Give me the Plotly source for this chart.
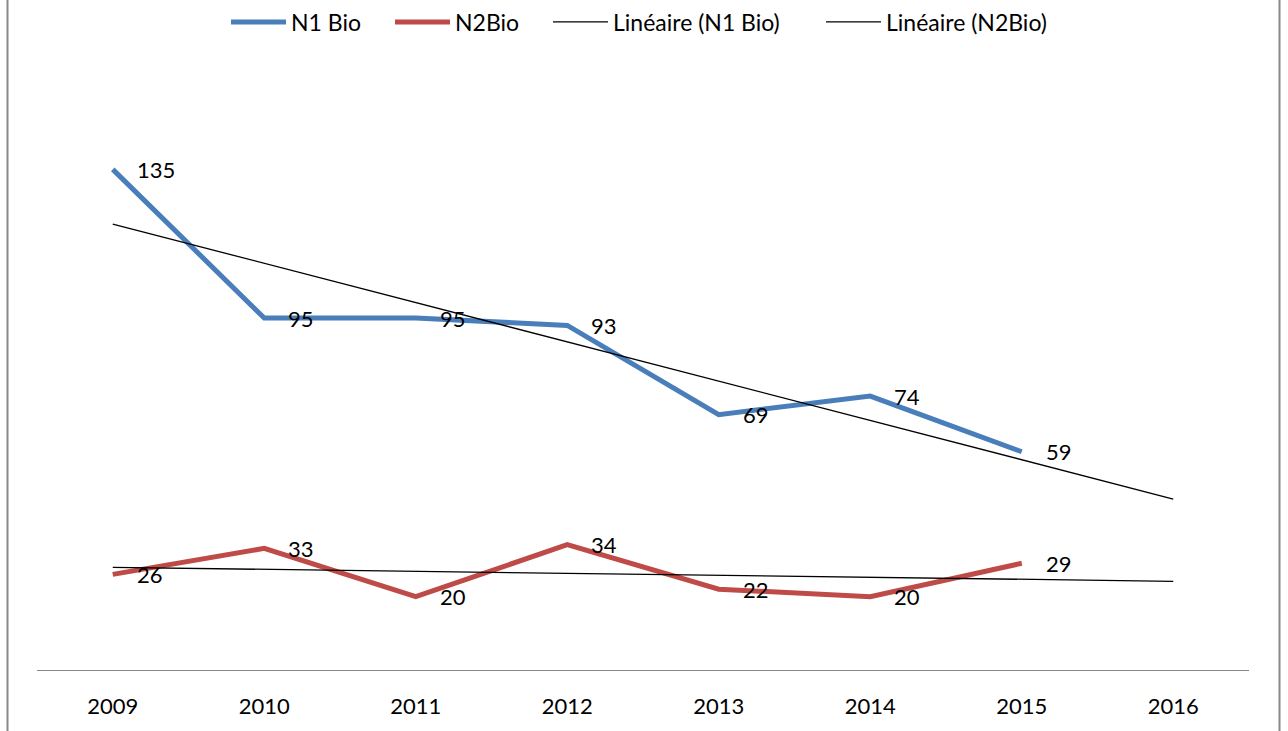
import numpy as np
import plotly.graph_objects as go

years = ["2009", "2010", "2011", "2012", "2013", "2014", "2015", "2016"]
n1_bio = [135, 95, 95, 93, 69, 74, 59]
n2_bio = [26, 33, 20, 34, 22, 20, 29]

FONT = "Lato"
BLUE = "#4A7EBB"
RED = "#BE4B48"
W, H = 1288, 731

def trend(vals, n_out):
    x = np.arange(len(vals))
    slope, icpt = np.polyfit(x, vals, 1)
    xo = np.arange(n_out)
    return list(icpt + slope * xo)

fig = go.Figure()
fig.add_trace(go.Scatter(x=years[:len(n1_bio)], y=n1_bio, mode="lines", name="N1 Bio",
                         line=dict(color=BLUE, width=5), legend="legend"))
fig.add_trace(go.Scatter(x=years[:len(n2_bio)], y=n2_bio, mode="lines", name="N2Bio",
                         line=dict(color=RED, width=5), legend="legend2"))
fig.add_trace(go.Scatter(x=years, y=trend(n1_bio, len(years)), mode="lines",
                         name="Linéaire (N1 Bio)", line=dict(color="black", width=1.3),
                         legend="legend3"))
fig.add_trace(go.Scatter(x=years, y=trend(n2_bio, len(years)), mode="lines",
                         name="Linéaire (N2Bio)", line=dict(color="black", width=1.3),
                         legend="legend4"))

annotations = []
for series in (n1_bio, n2_bio):
    for i, yv in enumerate(series):
        annotations.append(dict(x=i, y=yv, xref="x", yref="y", text=str(yv), showarrow=False,
                                xanchor="left", yanchor="middle", xshift=22,
                                font=dict(family=FONT, size=22, color="black")))

ITEMW = 55

def leg(text_start):
    return dict(orientation="h", xref="container", yref="container",
                x=(text_start - ITEMW - 10) / W, xanchor="left", y=(H - 22) / H, yanchor="middle",
                font=dict(family=FONT, size=23, color="black"),
                bgcolor="rgba(0,0,0,0)", itemwidth=ITEMW)

PLOT_TOP, PLOT_BOT = 58, 671
fig.update_layout(
    width=W, height=H,
    margin=dict(l=37, r=W - 1249, t=PLOT_TOP, b=H - PLOT_BOT),
    paper_bgcolor="white", plot_bgcolor="white",
    font=dict(family=FONT, size=22, color="black"),
    showlegend=True,
    legend=leg(291), legend2=leg(455), legend3=leg(613), legend4=leg(886),
    annotations=annotations,
    xaxis=dict(type="category", range=[-0.5, 7.5], showgrid=False, zeroline=False,
               showline=False, ticks="", ticklabelstandoff=20,
               tickfont=dict(family=FONT, size=22, color="black")),
    yaxis=dict(range=[0, (PLOT_BOT - PLOT_TOP) / ((671 - 318) / 95)], showgrid=False,
               zeroline=False, showline=False, showticklabels=False, ticks=""),
    shapes=[
        dict(type="line", xref="paper", yref="y", x0=0, x1=1, y0=0, y1=0,
             line=dict(color="#888888", width=2)),
        dict(type="line", xref="paper", yref="paper", x0=(7.5 - 37) / 1212, x1=(7.5 - 37) / 1212,
             y0=-0.2, y1=1.2, line=dict(color="#888888", width=2)),
        dict(type="line", xref="paper", yref="paper", x0=(1279.5 - 37) / 1212, x1=(1279.5 - 37) / 1212,
             y0=-0.2, y1=1.2, line=dict(color="#888888", width=2)),
    ],
)

fig.write_html("out.html", config={"displayModeBar": False},
               post_script="document.body.style.margin='0';")
